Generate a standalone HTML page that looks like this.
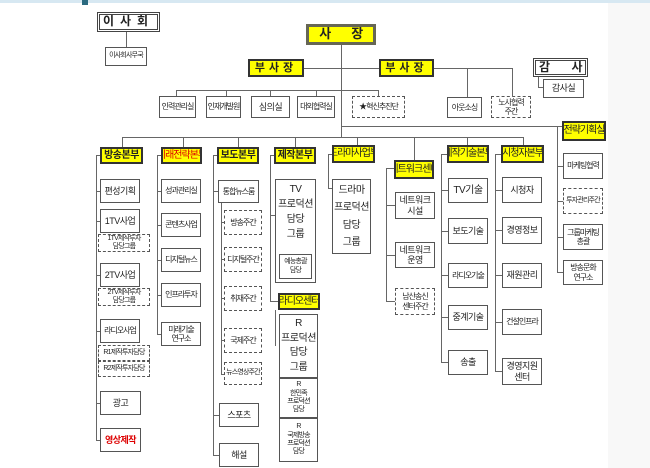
<!DOCTYPE html>
<html><head><meta charset="utf-8"><style>
body{margin:0;width:650px;height:468px;position:relative;background:#fff;overflow:hidden;font-family:"Liberation Sans","Noto Sans CJK KR","NanumGothic",sans-serif;color:#222}
div{position:absolute;box-sizing:border-box}
.b{background:#fff;border:1px solid #555;display:flex;align-items:center;justify-content:center;text-align:center;font-size:9px;line-height:1.15;white-space:nowrap;letter-spacing:-0.5px;overflow:hidden}
.s{font-size:8px;letter-spacing:-1px}
.t{font-size:7px;letter-spacing:-0.8px}
.d{border:1px dashed #555}
.y{background:#ffff00;border:2px solid #333;font-weight:bold;font-size:10px}
.y.t,.y.s{font-weight:normal;letter-spacing:-1px}
.h{height:1px;background:#666}
.v{width:1px;background:#666}
</style></head><body>
<div style="left:0;top:0;width:650px;height:3px;background:#d7e8f2"></div>
<div style="left:82px;top:0;width:6px;height:5px;background:#2b6a80"></div>
<div style="left:608px;top:3px;width:42px;height:465px;background:#f8f8f8"></div>

<!-- top -->
<div class="b" style="left:97px;top:12px;width:63px;height:20px;border:3px double #444;font-size:12px;font-weight:bold;letter-spacing:6px">이사회</div>
<div class="v" style="left:126px;top:32px;height:15px"></div>
<div class="b t" style="left:105px;top:47px;width:42px;height:19px">이사회사무국</div>

<div class="b y" style="left:306px;top:24px;width:70px;height:21px;border:3px solid #665;font-size:13px;justify-content:space-around">사<span>장</span></div>
<div class="v" style="left:341px;top:45px;height:92px"></div>
<div class="b y" style="left:248px;top:59px;width:56px;height:18px;font-size:11px;letter-spacing:4px">부사장</div>
<div class="b y" style="left:379px;top:59px;width:55px;height:18px;font-size:11px;letter-spacing:4px">부사장</div>
<div class="h" style="left:304px;top:68px;width:75px"></div>
<div class="h" style="left:434px;top:68px;width:79px"></div>
<div class="v" style="left:467px;top:68px;height:29px"></div>
<div class="v" style="left:512px;top:68px;height:28px"></div>
<div class="b s" style="left:447px;top:97px;width:35px;height:21px">아웃소싱</div>
<div class="b d s" style="left:491px;top:96px;width:40px;height:22px">노사협력<br>주간</div>
<div class="b" style="left:533px;top:58px;width:55px;height:19px;border:3px double #444;font-size:12px;font-weight:bold;justify-content:space-between;padding:0 3px">감<span>사</span></div>
<div class="v" style="left:538px;top:77px;height:10px"></div>
<div class="h" style="left:538px;top:87px;width:5px"></div>
<div class="b" style="left:543px;top:79px;width:41px;height:19px">감사실</div>

<div class="h" style="left:176px;top:90px;width:202px"></div>
<div class="v" style="left:176px;top:90px;height:6px"></div>
<div class="v" style="left:226px;top:90px;height:6px"></div>
<div class="v" style="left:270px;top:90px;height:6px"></div>
<div class="v" style="left:316px;top:90px;height:6px"></div>
<div class="v" style="left:378px;top:90px;height:6px"></div>
<div class="b s" style="left:159px;top:96px;width:37px;height:22px">인력관리실</div>
<div class="b s" style="left:206px;top:96px;width:35px;height:22px">인재개발원</div>
<div class="b" style="left:251px;top:96px;width:39px;height:22px">심의실</div>
<div class="b s" style="left:297px;top:96px;width:38px;height:22px">대외협력실</div>
<div class="b d s" style="left:352px;top:96px;width:53px;height:22px">★혁신추진단</div>

<!-- main lines -->
<div class="h" style="left:122px;top:137px;width:401px"></div>
<div class="h" style="left:341px;top:126px;width:221px"></div>
<div class="v" style="left:122px;top:137px;height:10px"></div>
<div class="v" style="left:183px;top:137px;height:10px"></div>
<div class="v" style="left:238px;top:137px;height:10px"></div>
<div class="v" style="left:295px;top:137px;height:10px"></div>
<div class="v" style="left:357px;top:137px;height:8px"></div>
<div class="v" style="left:414px;top:137px;height:23px"></div>
<div class="v" style="left:467px;top:137px;height:8px"></div>
<div class="v" style="left:523px;top:137px;height:8px"></div>

<!-- 방송본부 -->
<div class="b y" style="left:100px;top:147px;width:43px;height:17px">방송본부</div>
<div class="h" style="left:96px;top:155px;width:4px"></div>
<div class="v" style="left:96px;top:155px;height:285px"></div>
<div class="b" style="left:100px;top:179px;width:40px;height:24px">편성기획</div>
<div class="b" style="left:100px;top:209px;width:40px;height:24px">1TV사업</div>
<div class="b d t" style="left:98px;top:234px;width:52px;height:18px">1TV제작투자<br>담당그룹</div>
<div class="b" style="left:100px;top:263px;width:40px;height:24px">2TV사업</div>
<div class="b d t" style="left:98px;top:288px;width:52px;height:18px">2TV제작투자<br>담당그룹</div>
<div class="b s" style="left:100px;top:319px;width:40px;height:24px">라디오사업</div>
<div class="b d t" style="left:98px;top:345px;width:52px;height:16px">R1제작투자담당</div>
<div class="b d t" style="left:98px;top:361px;width:52px;height:16px">R2제작투자담당</div>
<div class="b" style="left:100px;top:391px;width:41px;height:24px">광고</div>
<div class="b" style="left:100px;top:428px;width:41px;height:24px;color:#d00;font-weight:bold">영상제작</div>
<div class="h" style="left:96px;top:191px;width:4px"></div>
<div class="h" style="left:96px;top:221px;width:4px"></div>
<div class="h" style="left:96px;top:275px;width:4px"></div>
<div class="h" style="left:96px;top:331px;width:4px"></div>
<div class="h" style="left:96px;top:403px;width:4px"></div>
<div class="h" style="left:96px;top:440px;width:4px"></div>

<!-- 미래전략본부 -->
<div class="b y t" style="left:161px;top:147px;width:41px;height:17px;color:#d00">미래전략본부</div>
<div class="h" style="left:157px;top:155px;width:4px"></div>
<div class="v" style="left:157px;top:155px;height:179px"></div>
<div class="b s" style="left:161px;top:179px;width:40px;height:24px">성과관리실</div>
<div class="b s" style="left:161px;top:213px;width:40px;height:24px">콘텐츠사업</div>
<div class="b s" style="left:161px;top:248px;width:40px;height:24px">디지털뉴스</div>
<div class="b s" style="left:161px;top:283px;width:40px;height:24px">인프라투자</div>
<div class="b s" style="left:161px;top:322px;width:40px;height:24px">미래기술<br>연구소</div>
<div class="h" style="left:157px;top:191px;width:4px"></div>
<div class="h" style="left:157px;top:225px;width:4px"></div>
<div class="h" style="left:157px;top:260px;width:4px"></div>
<div class="h" style="left:157px;top:295px;width:4px"></div>
<div class="h" style="left:157px;top:334px;width:4px"></div>

<!-- 보도본부 -->
<div class="b y" style="left:217px;top:147px;width:42px;height:17px">보도본부</div>
<div class="h" style="left:213px;top:155px;width:4px"></div>
<div class="v" style="left:213px;top:155px;height:300px"></div>
<div class="b s" style="left:218px;top:180px;width:41px;height:23px">통합뉴스룸</div>
<div class="v" style="left:221px;top:203px;height:171px"></div>
<div class="b d s" style="left:224px;top:210px;width:38px;height:25px">방송주간</div>
<div class="b d s" style="left:224px;top:247px;width:38px;height:25px">디지털주간</div>
<div class="b d s" style="left:224px;top:286px;width:38px;height:25px">취재주간</div>
<div class="b d s" style="left:224px;top:328px;width:38px;height:25px">국제주간</div>
<div class="b d t" style="left:224px;top:362px;width:38px;height:23px">뉴스영상주간</div>
<div class="b" style="left:219px;top:403px;width:40px;height:24px">스포츠</div>
<div class="b" style="left:219px;top:443px;width:40px;height:24px">해설</div>
<div class="h" style="left:213px;top:191px;width:5px"></div>
<div class="h" style="left:221px;top:222px;width:3px"></div>
<div class="h" style="left:221px;top:259px;width:3px"></div>
<div class="h" style="left:221px;top:298px;width:3px"></div>
<div class="h" style="left:221px;top:340px;width:3px"></div>
<div class="h" style="left:221px;top:374px;width:3px"></div>
<div class="h" style="left:213px;top:415px;width:6px"></div>
<div class="h" style="left:213px;top:455px;width:6px"></div>

<!-- 제작본부 -->
<div class="b y" style="left:274px;top:147px;width:42px;height:17px">제작본부</div>
<div class="h" style="left:270px;top:155px;width:4px"></div>
<div class="v" style="left:270px;top:155px;height:147px"></div>
<div class="h" style="left:270px;top:215px;width:5px"></div>
<div class="h" style="left:270px;top:301px;width:8px"></div>
<div class="b" style="left:275px;top:179px;width:41px;height:104px;align-items:flex-start;padding-top:2px;font-size:10px;line-height:1.5">TV<br>프로덕션<br>담당<br>그룹</div>
<div class="b t" style="left:279px;top:254px;width:33px;height:25px">예능총괄<br>담당</div>
<div class="b y s" style="left:278px;top:293px;width:42px;height:17px">라디오센터</div>
<div class="v" style="left:275px;top:310px;height:36px"></div>
<div class="b" style="left:279px;top:314px;width:39px;height:64px;font-size:10px;line-height:1.45">R<br>프로덕션<br>담당<br>그룹</div>
<div class="b t" style="left:279px;top:378px;width:39px;height:40px;line-height:1.2">R<br>한민족<br>프로덕션<br>담당</div>
<div class="b t" style="left:279px;top:418px;width:39px;height:44px;line-height:1.2">R<br>국제방송<br>프로덕션<br>담당</div>

<!-- 드라마사업부 -->
<div class="b y t" style="left:332px;top:145px;width:43px;height:18px">드라마사업부</div>
<div class="h" style="left:328px;top:154px;width:4px"></div>
<div class="v" style="left:328px;top:154px;height:34px"></div>
<div class="h" style="left:328px;top:188px;width:4px"></div>
<div class="b" style="left:332px;top:179px;width:39px;height:75px;font-size:10px;line-height:1.75">드라마<br>프로덕션<br>담당<br>그룹</div>

<!-- 네트워크센터 -->
<div class="b y t" style="left:394px;top:160px;width:40px;height:19px">네트워크센터</div>
<div class="h" style="left:386px;top:168px;width:8px"></div>
<div class="v" style="left:386px;top:168px;height:133px"></div>
<div class="b" style="left:395px;top:192px;width:40px;height:27px">네트워크<br>시설</div>
<div class="b" style="left:395px;top:242px;width:40px;height:26px">네트워크<br>운영</div>
<div class="b d s" style="left:395px;top:288px;width:40px;height:27px">남산송신<br>센터주간</div>
<div class="h" style="left:386px;top:205px;width:9px"></div>
<div class="h" style="left:386px;top:255px;width:9px"></div>
<div class="h" style="left:386px;top:301px;width:9px"></div>

<!-- 제작기술본부 -->
<div class="b y t" style="left:447px;top:145px;width:42px;height:18px">제작기술본부</div>
<div class="h" style="left:441px;top:154px;width:6px"></div>
<div class="v" style="left:441px;top:154px;height:209px"></div>
<div class="b" style="left:448px;top:178px;width:40px;height:25px;font-size:10px">TV기술</div>
<div class="b" style="left:448px;top:218px;width:40px;height:26px">보도기술</div>
<div class="b s" style="left:448px;top:263px;width:40px;height:25px">라디오기술</div>
<div class="b" style="left:448px;top:305px;width:40px;height:25px">중계기술</div>
<div class="b" style="left:448px;top:350px;width:40px;height:25px">송출</div>
<div class="h" style="left:441px;top:190px;width:7px"></div>
<div class="h" style="left:441px;top:231px;width:7px"></div>
<div class="h" style="left:441px;top:275px;width:7px"></div>
<div class="h" style="left:441px;top:317px;width:7px"></div>
<div class="h" style="left:441px;top:362px;width:7px"></div>

<!-- 시청자본부 -->
<div class="b y s" style="left:501px;top:145px;width:43px;height:18px">시청자본부</div>
<div class="h" style="left:495px;top:154px;width:6px"></div>
<div class="v" style="left:495px;top:154px;height:218px"></div>
<div class="b" style="left:502px;top:177px;width:40px;height:26px">시청자</div>
<div class="b" style="left:502px;top:217px;width:40px;height:27px">경영정보</div>
<div class="b" style="left:502px;top:263px;width:40px;height:25px">재원관리</div>
<div class="b s" style="left:502px;top:309px;width:40px;height:26px">건설인프라</div>
<div class="b" style="left:502px;top:358px;width:40px;height:27px">경영지원<br>센터</div>
<div class="h" style="left:495px;top:190px;width:7px"></div>
<div class="h" style="left:495px;top:230px;width:7px"></div>
<div class="h" style="left:495px;top:275px;width:7px"></div>
<div class="h" style="left:495px;top:322px;width:7px"></div>
<div class="h" style="left:495px;top:371px;width:7px"></div>

<!-- 전략기획실 -->
<div class="b y s" style="left:562px;top:121px;width:44px;height:20px">전략기획실</div>
<div class="v" style="left:557px;top:126px;height:147px"></div>
<div class="b s" style="left:563px;top:153px;width:40px;height:26px">마케팅협력</div>
<div class="b d t" style="left:563px;top:188px;width:40px;height:26px">투자관리주간</div>
<div class="b s" style="left:563px;top:224px;width:40px;height:26px">그룹마케팅<br>총괄</div>
<div class="b s" style="left:563px;top:260px;width:40px;height:25px">방송문화<br>연구소</div>
<div class="h" style="left:557px;top:166px;width:6px"></div>
<div class="h" style="left:557px;top:201px;width:6px"></div>
<div class="h" style="left:557px;top:237px;width:6px"></div>
<div class="h" style="left:557px;top:272px;width:6px"></div>
</body></html>
